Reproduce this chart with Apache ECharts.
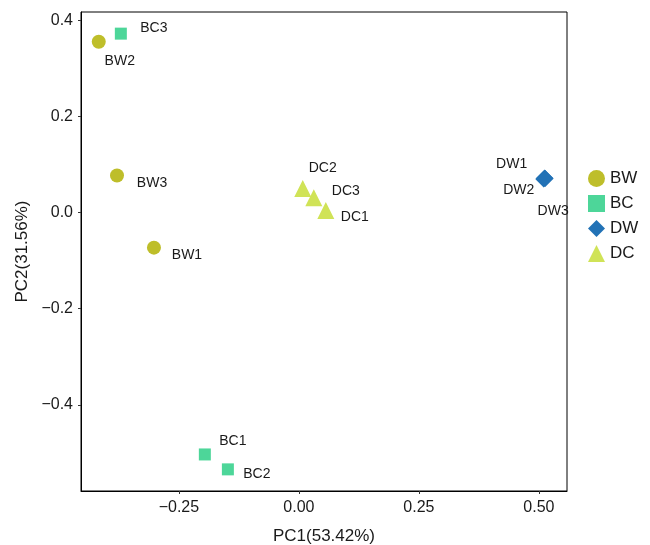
<!DOCTYPE html>
<html>
<head>
<meta charset="utf-8">
<script src="https://cdn.jsdelivr.net/npm/echarts@6/dist/echarts.min.js"></script>
<style>
  html, body { margin: 0; padding: 0; background: #fff; }
  #chart { width: 650px; height: 545px; }
</style>
</head>
<body>
<div id="chart"></div>
<script>
// PCA scores
const groups = ['BW', 'BC', 'DW', 'DC'];

const bwNames = ['BW1', 'BW2', 'BW3'];
const bwPC1 = [-0.302, -0.417, -0.379];
const bwPC2 = [-0.073, 0.355, 0.077];

const bcNames = ['BC1', 'BC2', 'BC3'];
const bcPC1 = [-0.196, -0.148, -0.371];
const bcPC2 = [-0.503, -0.534, 0.372];

const dwNames = ['DW1', 'DW2', 'DW3'];
const dwPC1 = [0.512, 0.510, 0.513];
const dwPC2 = [0.072, 0.070, 0.071];

const dcNames = ['DC1', 'DC2', 'DC3'];
const dcPC1 = [0.056, 0.008, 0.031];
const dcPC2 = [0.004, 0.050, 0.031];

const xTicks = [-0.25, 0, 0.25, 0.5];
const yTicks = [-0.4, -0.2, 0, 0.2, 0.4];

// where each sample label sits relative to its point (px)
const labelOffsets = {
  BW1: [33, 7], BW2: [21, 19], BW3: [35, 8],
  BC1: [28, -13], BC2: [29, 5], BC3: [33, -6],
  DW1: [-33, -14], DW2: [-25, 11], DW3: [8, 33],
  DC1: [29, 7], DC2: [20, -20], DC3: [32, -6]
};

const colors = ['#bebe2a', '#4dd699', '#2272b6', '#d0e357'];
const symbols = ['circle', 'rect', 'diamond', 'triangle'];
const sizes = [14, 12, 17, 17];

const font = 'Liberation Sans, Arial, Helvetica, sans-serif';
const minus = (s) => s.replace('-', '\u2212');

const buildData = (names, xs, ys) =>
  names.map((n, i) => ({
    name: n,
    value: [xs[i], ys[i]],
    label: { offset: labelOffsets[n] }
  }));

const seriesData = [
  buildData(bwNames, bwPC1, bwPC2),
  buildData(bcNames, bcPC1, bcPC2),
  buildData(dwNames, dwPC1, dwPC2),
  buildData(dcNames, dcPC1, dcPC2)
];

const chart = echarts.init(document.getElementById('chart'));

chart.setOption({
  animation: false,
  textStyle: { fontFamily: font },
  grid: {
    left: 81, right: 83, top: 12, bottom: 54,
    outerBoundsMode: 'none',
    containLabel: false,
    show: true, borderColor: '#000', borderWidth: 1
  },
  legend: {
    orient: 'vertical',
    left: 583, top: 165,
    itemWidth: 17, itemHeight: 17, itemGap: 8,
    data: groups.map((g, i) => ({ name: g, icon: symbols[i] })),
    textStyle: { fontSize: 17, color: '#1a1a1a', fontFamily: font }
  },
  xAxis: {
    type: 'value',
    min: -0.454, max: 0.5585,
    name: 'PC1(53.42%)',
    nameLocation: 'middle', nameGap: 37,
    nameTextStyle: { fontSize: 17, color: '#1a1a1a', fontFamily: font },
    splitLine: { show: false },
    axisLine: { show: true, onZero: false, lineStyle: { color: '#000', width: 1 } },
    axisTick: { show: true, length: 3, customValues: xTicks, lineStyle: { color: '#333' } },
    axisLabel: {
      customValues: xTicks, margin: 9, fontSize: 16, color: '#1a1a1a',
      formatter: (v) => minus(v.toFixed(2))
    }
  },
  yAxis: {
    type: 'value',
    min: -0.579, max: 0.417,
    name: 'PC2(31.56%)',
    nameLocation: 'middle', nameGap: 49,
    nameTextStyle: { fontSize: 17, color: '#1a1a1a', fontFamily: font },
    splitLine: { show: false },
    axisLine: { show: true, onZero: false, lineStyle: { color: '#000', width: 1 } },
    axisTick: { show: true, length: 3, customValues: yTicks, lineStyle: { color: '#333' } },
    axisLabel: {
      customValues: yTicks, margin: 8, fontSize: 16, color: '#1a1a1a',
      formatter: (v) => minus(v.toFixed(1))
    }
  },
  series: groups.map((g, i) => ({
    name: g,
    type: 'scatter',
    symbol: symbols[i],
    symbolSize: sizes[i],
    itemStyle: { color: colors[i], opacity: 1 },
    label: {
      show: true,
      position: 'inside',
      formatter: '{b}',
      fontSize: 14,
      color: '#1a1a1a',
      fontFamily: font
    },
    data: seriesData[i]
  }))
});
</script>
</body>
</html>
